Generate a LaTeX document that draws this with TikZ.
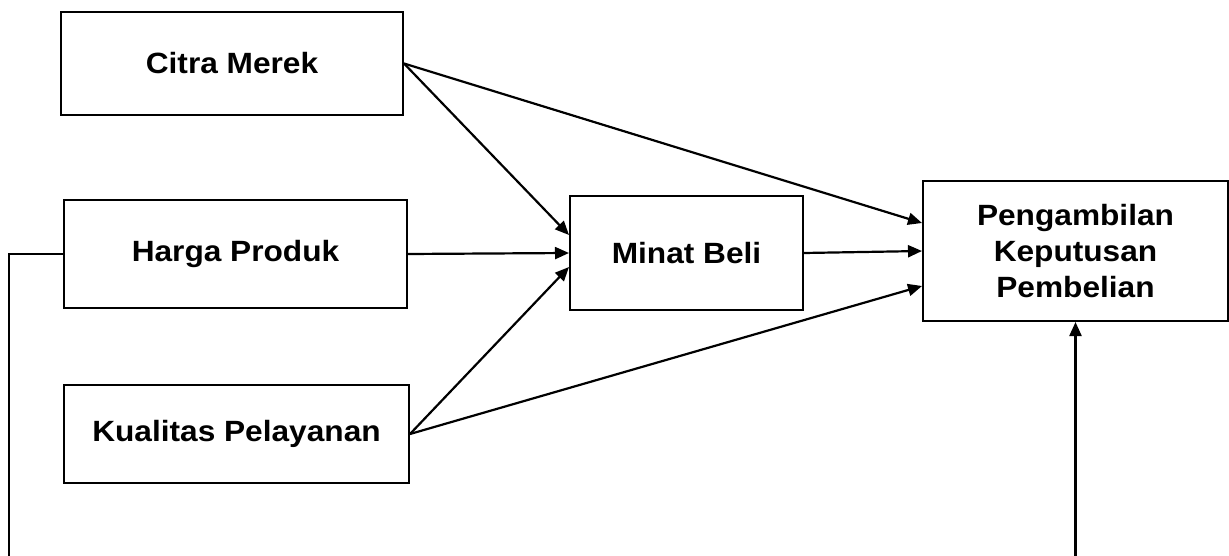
\documentclass[tikz,border=0pt]{standalone}
\usepackage{fontspec}
\setmainfont[FakeStretch=1.08]{Liberation Sans}
\usetikzlibrary{arrows.meta}
\begin{document}
\begin{tikzpicture}[line width=2pt,
  box/.style={draw, line width=2pt, rectangle, inner sep=0pt, align=center,
    font=\fontsize{29.3}{36}\selectfont\bfseries},
  conn/.style={draw, line width=2.2pt, -{Triangle[length=14pt,width=12pt]}},
  lineonly/.style={draw, line width=2.2pt}]
\useasboundingbox (0pt,0pt) rectangle (1229pt,-556pt);
\node[box, minimum width=342pt, minimum height=103pt] (cm) at (232pt,-63.5pt) {Citra Merek};
\node[box, minimum width=343pt, minimum height=108pt] (hp) at (235.5pt,-254pt) {Harga Produk};
\node[box, minimum width=345pt, minimum height=98pt] (kp) at (236.5pt,-434pt) {Kualitas Pelayanan};
\node[box, minimum width=233pt, minimum height=114pt] (mb) at (686.5pt,-253pt) {Minat Beli};
\node[box, minimum width=305pt, minimum height=140pt] (pk) at (1075.5pt,-251pt) {Pengambilan\\Keputusan\\Pembelian};
\coordinate (lb) at (9pt,-556pt);
\coordinate (rb) at (1075.5pt,-556pt);
\path[conn] (cm.east) -- ([yshift=18pt]mb.west);
\path[conn] (hp.east) -- (mb.west);
\path[conn] (kp.east) -- ([yshift=-14pt]mb.west);
\path[conn] (cm.east) -- ([yshift=28pt]pk.west);
\path[conn] (mb.east) -- (pk.west);
\path[conn] (kp.east) -- ([yshift=-35pt]pk.west);
\path[lineonly] (hp.west) -| (lb);
\path[conn] (rb) -- (pk.south);
\end{tikzpicture}
\end{document}
